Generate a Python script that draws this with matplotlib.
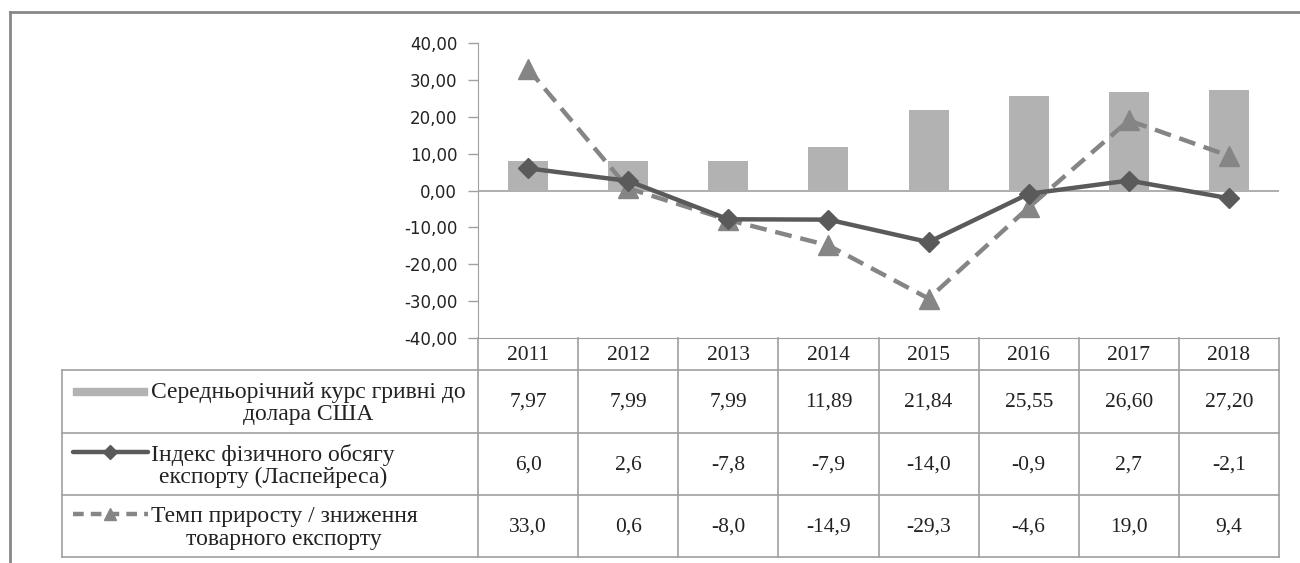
import numpy as np
import matplotlib.pyplot as plt
from matplotlib.lines import Line2D
from matplotlib.patches import Rectangle

years = ["2011", "2012", "2013", "2014", "2015", "2016", "2017", "2018"]
kurs = [7.97, 7.99, 7.99, 11.89, 21.84, 25.55, 26.60, 27.20]
indeks = [6.0, 2.6, -7.8, -7.9, -14.0, -0.9, 2.7, -2.1]
temp = [33.0, 0.6, -8.0, -14.9, -29.3, -4.6, 19.0, 9.4]

row_names = [
    "Середньорічний курс гривні до\nдолара США",
    "Індекс фізичного обсягу\nекспорту (Ласпейреса)",
    "Темп приросту / зниження\nтоварного експорту",
]

W, H = 1300, 563
bar_col = "#b2b2b2"
line1_col = "#5a5a5a"
line2_col = "#858585"
grid_col = "#a0a0a0"
txt_col = "#222222"


def fmt(v, nd):
    return f"{v:.{nd}f}".replace(".", ",")


fig = plt.figure(figsize=(W / 100, H / 100), dpi=100)

# chart area in pixels
x0, x1 = 478, 1279
y_top, y_bot = 43, 338
ax = fig.add_axes([x0 / W, 1 - y_bot / H, (x1 - x0) / W, (y_bot - y_top) / H])
x = np.arange(len(years))
ax.bar(x, kurs, width=0.4, color=bar_col, zorder=1)
ax.plot(x, indeks, color=line1_col, lw=3.2, marker="D", ms=10, zorder=3)
ax.plot(x, temp, color=line2_col, lw=3.2, ls=(0, (3.8, 2.0)), marker="^", ms=14,
        zorder=2)
ax.axhline(0, color=grid_col, lw=1.2, zorder=0)
ax.set_xlim(-0.5, len(years) - 0.5)
ax.set_ylim(-40, 40)
ax.set_yticks(np.arange(-40, 41, 10))
ax.set_yticklabels([fmt(v, 2) for v in np.arange(-40, 41, 10)],
                   fontsize=12, color=txt_col, family="DejaVu Sans")
ax.tick_params(axis="y", length=7, width=1, color=grid_col, pad=8)
ax.set_xticks([])
for s in ["top", "right"]:
    ax.spines[s].set_visible(False)
ax.spines["left"].set_color(grid_col)
ax.spines["bottom"].set_color(grid_col)
ax.patch.set_alpha(0)

# table and frame overlay in pixel coords
tb = fig.add_axes([0, 0, 1, 1], zorder=-1)
tb.set_xlim(0, W)
tb.set_ylim(H, 0)
tb.axis("off")

# outer frame
tb.plot([10, W], [12, 12], color="#888888", lw=2)
tb.plot([10, 10], [12, H], color="#888888", lw=2)

col_w = (x1 - x0) / len(years)
rows_y = [338, 370, 433, 495, 557]
tleft = 62
for k in range(len(years) + 1):
    xx = x0 + k * col_w
    tb.plot([xx, xx], [rows_y[0], rows_y[-1]], color=grid_col, lw=1.2)
tb.plot([tleft, tleft], [rows_y[1], rows_y[-1]], color=grid_col, lw=1.2)
for yy in rows_y[1:]:
    tb.plot([tleft, x1], [yy, yy], color=grid_col, lw=1.2)

serif = "Liberation Serif"
for k, yr in enumerate(years):
    tb.text(x0 + (k + 0.5) * col_w, (rows_y[0] + rows_y[1]) / 2 + 1, yr,
            ha="center", va="center", fontsize=15.5, family=serif, color=txt_col)

values = [[fmt(v, 2) for v in kurs], [fmt(v, 1) for v in indeks],
          [fmt(v, 1) for v in temp]]
for r in range(3):
    yc = (rows_y[r + 1] + rows_y[r + 2]) / 2
    for k in range(len(years)):
        tb.text(x0 + (k + 0.5) * col_w, yc + 1, values[r][k], ha="center",
                va="center", fontsize=15.5, family=serif, color=txt_col)
    tb.text(151, yc + 2, row_names[r], ha="left", va="center", multialignment="center",
            fontsize=17, family=serif, color=txt_col, linespacing=1.08)

# legend keys
yc = (rows_y[1] + rows_y[2]) / 2
tb.add_patch(Rectangle((73, yc - 14), 74, 7, color=bar_col))
yc = (rows_y[2] + rows_y[3]) / 2
tb.add_line(Line2D([73, 110, 148], [yc - 12] * 3, color=line1_col, lw=3.2,
                   marker="D", ms=7, markevery=[1], solid_capstyle="round"))
yc = (rows_y[3] + rows_y[4]) / 2
tb.add_line(Line2D([73, 110, 148], [yc - 12] * 3, color=line2_col, lw=3.2,
                   ls=(0, (2.4, 1.6)), marker="^", ms=9, markevery=[1]))

fig.savefig("out.png", dpi=100)
